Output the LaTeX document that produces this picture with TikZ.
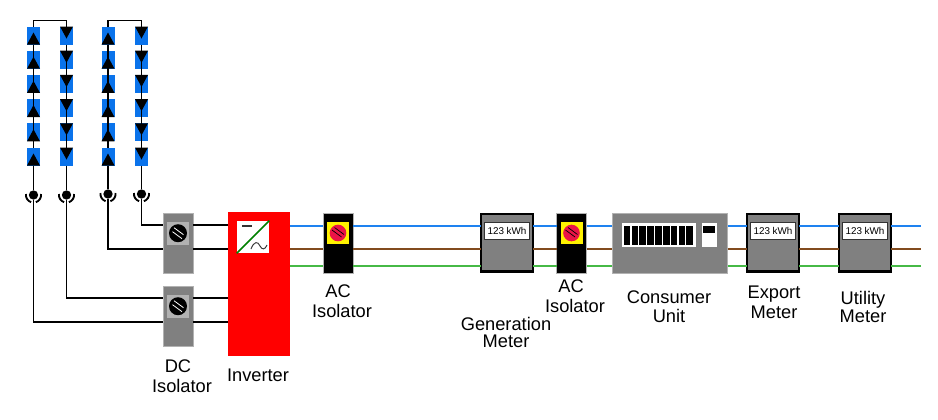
\documentclass[tikz,border=0pt]{standalone}
\usepackage{fontspec}
\setmainfont{Liberation Sans}
\usepackage{tikz}
\usetikzlibrary{calc}

\definecolor{panelblue}{RGB}{10,115,235}
\definecolor{boxgray}{RGB}{128,128,128}
\definecolor{knobred}{RGB}{235,20,70}
\definecolor{acblue}{RGB}{30,130,240}
\definecolor{acbrown}{RGB}{130,75,30}
\definecolor{acgreen}{RGB}{70,185,70}

\begin{document}
\begin{tikzpicture}[x=0.75pt, y=-0.75pt, >=stealth]
    % Styles
    \tikzstyle{panel} = [rectangle, fill=panelblue, minimum width=9.75pt, minimum height=13.5pt, inner sep=0pt, outer sep=0pt]
    \tikzstyle{plug} = [circle, fill=black, minimum size=7pt, inner sep=0pt]
    \tikzstyle{wire} = [line width=1.4pt, black]
    \tikzstyle{graybox} = [rectangle, fill=boxgray, draw=gray!60, line width=0.3pt, minimum width=22.5pt, minimum height=45pt, inner sep=0pt, outer sep=0pt]
    \tikzstyle{blackbox} = [graybox, fill=black]
    \tikzstyle{meterbox} = [graybox, draw=black, line width=2pt, minimum width=39pt, minimum height=43pt]
    \tikzstyle{dial} = [rectangle, fill=white, draw=black!80, line width=1pt, minimum width=33.5pt, minimum height=13pt, inner sep=0pt, font=\fontsize{7.4}{9}\selectfont]
    \tikzstyle{caption} = [align=center, font=\fontsize{13.7}{15.3}\selectfont]
    \tikzstyle{seat} = [rectangle, minimum width=16.5pt, minimum height=17pt, inner sep=0pt]
    \tikzstyle{knob} = [circle, minimum size=13.5pt, inner sep=0pt]

    \useasboundingbox (0,0) rectangle (938,419);

    % Panels
    \foreach \col/\x in {A/33.5, B/66.5, C/108, D/141.5} {
        \foreach \row/\y in {1/35.5, 2/59.7, 3/83.9, 4/108.1, 5/132.3, 6/156.5}
            \node[panel] (\col\row) at (\x,\y) {};
        \draw[wire] (\col1) -- (\col6);
    }
    \foreach \col in {A,C}
        \foreach \row in {1,...,6}
            \fill (\col\row.south west) -- (\col\row.south east) -- ($(\col\row.south)+(0,-12)$) -- cycle;
    \foreach \col in {B,D}
        \foreach \row in {1,...,6}
            \fill (\col\row.north west) -- (\col\row.north east) -- ($(\col\row.north)+(0,12)$) -- cycle;
    \draw[wire] (A1.north) -- ++(0,-6) -| (B1.north);
    \draw[wire] (C1.north) -- ++(0,-6) -| (D1.north);

    % Plugs
    \node[plug] (PlugA) at (33.5,195) {};
    \node[plug] (PlugB) at (66.5,195) {};
    \node[plug] (PlugC) at (108,194) {};
    \node[plug] (PlugD) at (141.5,194) {};
    \foreach \col in {A,B,C,D} {
        \draw[wire] (\col6) -- (Plug\col);
        \draw[line width=1.4pt] ($(Plug\col)+(-7.5,-1)$) arc[start angle=188, end angle=108, radius=7.5];
        \draw[line width=1.4pt] ($(Plug\col)+(7.5,-1)$) arc[start angle=-8, end angle=72, radius=7.5];
    }

    % DC isolators
    \foreach \name/\y in {IsoDCa/242.7, IsoDCb/315.7} {
        \node[graybox] (\name) at (178,\y) {};
        \node[seat, fill=gray!60] (\name Seat) at (178,\y-9.5) {};
        \node[knob, fill=black] (\name Knob) at (\name Seat) {};
        \draw[white, line width=0.6pt] ($(\name Knob)+(-5.5,-1.5)$) -- ++(9.5,7);
        \draw[white, line width=0.6pt] ($(\name Knob)+(-4,-5.5)$) -- ++(9.5,7);
    }

    % Inverter
    \node[rectangle, fill=red, minimum width=46.5pt, minimum height=107.5pt, inner sep=0pt, outer sep=0pt] (Inverter) at (259,284) {};
    \node[rectangle, fill=white, minimum width=24pt, minimum height=24pt, inner sep=0pt] (Symbol) at (253,237) {};
    \draw[green!50!black, line width=1.1pt] (Symbol.south west) -- (Symbol.north east);
    \draw[black!80, line width=1.1pt] (242,226) -- (252,226);
    \draw[black!80, line width=0.7pt] (251,249) .. controls (254,241) and (258,241) .. (260,246) .. controls (262,250) and (265,250) .. (267,245);

    % AC isolators and meters
    \foreach \name/\x in {IsoACa/338, IsoACb/571.5} {
        \node[blackbox] (\name) at (\x,242.7) {};
        \node[seat, fill=yellow] (\name Seat) at (\x,233) {};
        \node[knob, minimum size=12.5pt, fill=knobred] (\name Knob) at (\name Seat) {};
        \draw[black, line width=0.5pt] ($(\name Knob)+(-6,-3)$) -- ++(9.5,7);
        \draw[black, line width=0.5pt] ($(\name Knob)+(-3.5,-5.5)$) -- ++(9.5,7);
    }
    \foreach \name/\x in {GenMeter/507, ExpMeter/773, UtilMeter/865} {
        \node[meterbox] (\name) at (\x,242.7) {};
        \node[dial] (\name Dial) at (\x,231) {123 kWh};
    }

    % Consumer unit
    \node[graybox, minimum width=86.5pt] (Consumer) at (670,242.7) {};
    \node[rectangle, fill=white, minimum width=55.25pt, minimum height=18pt, inner sep=0pt] (Breakers) at (659.2,235.3) {};
    \foreach \i in {0,...,8}
        \node[rectangle, fill=black, minimum width=5pt, minimum height=14.5pt, inner sep=0pt] (Way\i) at (627+\i*7.84,235.3) {};
    \node[rectangle, fill=white, minimum width=11.25pt, minimum height=18pt, inner sep=0pt] (Main) at (709.2,235.3) {};
    \node[rectangle, fill=black, minimum width=8.75pt, minimum height=5.5pt, inner sep=0pt] (MainSwitch) at (709.2,229.7) {};

    % Wires
    \coordinate (LineEnd) at (921,249);
    \draw[wire] (PlugA) |- (IsoDCb.west |- 0,322);
    \draw[wire] (PlugB) |- (IsoDCb.west |- 0,298);
    \draw[wire] (PlugC) |- (IsoDCa.west |- 0,249);
    \draw[wire] (PlugD) |- (IsoDCa.west |- 0,225);
    \foreach \from/\y in {IsoDCa/225, IsoDCa/249, IsoDCb/298, IsoDCb/322}
        \draw[wire] (\from.east |- 0,\y) -- (Inverter.west |- 0,\y);
    \foreach \from/\to in {Inverter/IsoACa, IsoACa/GenMeter, GenMeter/IsoACb, IsoACb/Consumer, Consumer/ExpMeter, ExpMeter/UtilMeter} {
        \draw[acblue, line width=1.3pt] (\from.east |- 0,226) -- (\to.west |- 0,226);
        \draw[acbrown, line width=1.3pt] (\from.east |- 0,249) -- (\to.west |- 0,249);
        \draw[acgreen, line width=1.3pt] (\from.east |- 0,266) -- (\to.west |- 0,266);
    }
    \draw[acblue, line width=1.3pt] (UtilMeter.east |- 0,226) -- (LineEnd |- 0,226);
    \draw[acbrown, line width=1.3pt] (UtilMeter.east |- 0,249) -- (LineEnd);
    \draw[acgreen, line width=1.3pt] (UtilMeter.east |- 0,266) -- (LineEnd |- 0,266);

    % Labels
    \node[caption] (LabelDC) at (182,376) {DC\hspace*{6pt}\\Isolator};
    \node[caption] (LabelInv) at (258,375) {Inverter};
    \node[caption] (LabelACa) at (342,301.5) {AC\hspace*{6pt}\\Isolator};
    \node[caption] (LabelGen) at (506,332.5) {Generation\\[-2.5pt]Meter};
    \node[caption] (LabelACb) at (575,296) {AC\hspace*{6pt}\\Isolator};
    \node[caption] (LabelCons) at (669,306.5) {Consumer\\[-1pt]Unit};
    \node[caption] (LabelExp) at (774,302.5) {Export\\Meter};
    \node[caption] (LabelUtil) at (863,307) {Utility\\[-2pt]Meter};
\end{tikzpicture}
\end{document}
